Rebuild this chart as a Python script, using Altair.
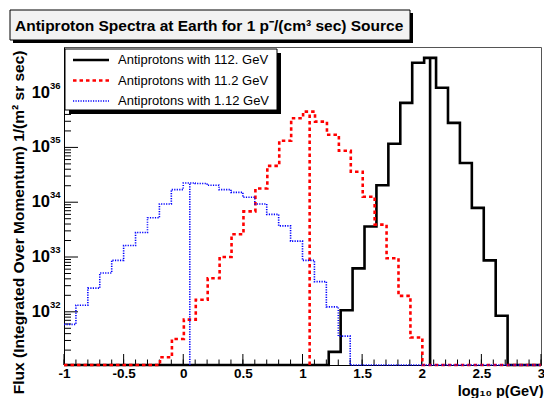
import altair as alt
import pandas as pd

# ---------------- data ----------------
bin_lo = [-1.0, -0.9, -0.8, -0.7, -0.6, -0.5, -0.4, -0.3, -0.2, -0.1,
          0.0, 0.1, 0.2, 0.3, 0.4, 0.5, 0.6, 0.7, 0.8, 0.9,
          1.0, 1.1, 1.2, 1.3, 1.4, 1.5, 1.6, 1.7, 1.8, 1.9,
          2.0, 2.1, 2.2, 2.3, 2.4, 2.5, 2.6, 2.7, 2.8, 2.9]
x_end = 3.0

series_names = ["Antiprotons with 112. GeV", "Antiprotons with 11.2 GeV", "Antiprotons with 1.12 GeV"]

flux_112 = [0] * 22 + [1.86e31, 1.07e32, 6.2e32, 3.6e33, 2.04e34, 1.17e35, 6.5e35, 3.5e36,
                      4.3e36, 1.23e36, 2.8e35, 5.2e34, 7.9e33, 8.7e32, 8.5e31] + [0] * 3
flux_11 = [0] * 8 + [1.48e31, 3.2e31, 7.2e31, 1.66e32, 4.1e32, 1.0e33, 2.6e33, 6.8e33, 1.78e34,
                     4.6e34, 1.32e35, 3.4e35, 4.5e35, 2.95e35, 1.7e35, 8.7e34, 3.6e34, 1.26e34,
                     3.9e33, 9.5e32, 1.95e32, 3.4e31] + [0] * 10
flux_1 = [5.9e31, 1.32e32, 2.7e32, 5.1e32, 8.7e32, 1.62e33, 2.8e33, 5.2e33, 9.3e33, 1.7e34,
          2.24e34, 2.19e34, 2.04e34, 1.7e34, 1.51e34, 1.23e34, 9.3e33, 6.0e33, 3.7e33, 1.95e33,
          8.7e32, 3.55e32, 1.23e32, 3.6e31] + [0] * 16

bin_shift = [0.02, 0.005, 0.0]          # small offset of each histogram's binning
source_x = [2.07, 1.06, 0.055]           # vertical marker at the source momentum
source_top = [4.3e36, 4.5e35, 2.24e34]

colors = ["#000000", "#ff0000", "#0000ff"]
dashes = [[1, 0], [3.5, 3], [1.2, 1.3]]
widths = [2.6, 2.6, 1.6]

y_min, y_max = 1.07e31, 6.8e36
x_min, x_max = -1.0, 3.0
y_major = [1e32, 1e33, 1e34, 1e35, 1e36]
y_exps = ["32", "33", "34", "35", "36"]
y_minor = [k * 10.0 ** e for e in range(31, 37) for k in range(2, 10)
           if y_min < k * 10.0 ** e < y_max]
x_major = [-1.0, -0.5, 0.0, 0.5, 1.0, 1.5, 2.0, 2.5, 3.0]
x_minor = [round(-1.0 + 0.1 * i, 1) for i in range(41)]

W, H = 477, 318
PL, PT = 56, 39          # plot area origin inside the chart (page: 64, 47)
FONT = "Liberation Sans"

xscale = alt.Scale(domain=[x_min, x_max], nice=False, zero=False)
yscale = alt.Scale(type="log", domain=[y_min, y_max], nice=False)

xaxis = alt.Axis(values=x_major, labelExpr="'' + datum.value", labelFont=FONT,
                 labelFontWeight="bold", labelFontSize=13.5, labelColor="#000",
                 labelPadding=1, labelFlush=False, labelOverlap=False,
                 ticks=False, tickSize=0, grid=False, domain=True, domainColor="#000",
                 title="log\u2081\u2080 p(GeV)", titleFont=FONT, titleFontWeight="bold",
                 titleFontSize=14.5, titleColor="#000", titleAnchor="end", titleAlign="right",
                 titleX=W + 2, titleY=30, titleBaseline="alphabetic")
yaxis = alt.Axis(labels=False, ticks=False, tickSize=0, grid=False, domain=True,
                 domainColor="#000",
                 title="Flux (Integrated Over Momentum)  1/(m\u00b2 sr sec)",
                 titleFont=FONT, titleFontWeight="bold", titleFontSize=15.5, titleColor="#000",
                 titleAngle=270, titleAlign="right", titleBaseline="middle",
                 titleX=-46, titleY=3)


def X(field):
    return alt.X(field, type="quantitative", scale=xscale, axis=xaxis)


def Y(field):
    return alt.Y(field, type="quantitative", scale=yscale, axis=yaxis)


layers = []

# tick marks pointing inward (ROOT style)
layers.append(alt.Chart(pd.DataFrame({"v": y_major})).mark_rule(color="#000", strokeWidth=1)
              .encode(y=Y("v"), x=alt.value(0), x2=alt.value(14)))
layers.append(alt.Chart(pd.DataFrame({"v": y_minor})).mark_rule(color="#000", strokeWidth=1)
              .encode(y=Y("v"), x=alt.value(0), x2=alt.value(7)))
layers.append(alt.Chart(pd.DataFrame({"v": x_major})).mark_rule(color="#000", strokeWidth=1)
              .encode(x=X("v"), y=alt.value(H), y2=alt.value(H - 11)))
layers.append(alt.Chart(pd.DataFrame({"v": x_minor})).mark_rule(color="#000", strokeWidth=1)
              .encode(x=X("v"), y=alt.value(H), y2=alt.value(H - 5.5)))

# histograms
for i, vals in enumerate([flux_112, flux_11, flux_1]):
    xs, vs = [], []
    if bin_shift[i] > 0:
        xs.append(x_min)
        vs.append(vals[0])
    for lo, v in zip(bin_lo, vals):
        xs.append(lo + bin_shift[i])
        vs.append(v)
    xs.append(x_end)
    vs.append(vals[-1])
    df = pd.DataFrame({"x": xs, "v": vs})
    layers.append(
        alt.Chart(df).transform_calculate(f=f"max(datum.v, {y_min})")
        .mark_line(interpolate="step-after", color=colors[i], strokeWidth=widths[i],
                   strokeDash=dashes[i], strokeCap="butt")
        .encode(x=X("x"), y=Y("f"))
    )
    mk = pd.DataFrame({"x": [source_x[i]], "lo": [y_min], "hi": [source_top[i]]})
    layers.append(
        alt.Chart(mk).mark_rule(color=colors[i], strokeWidth=widths[i], strokeDash=dashes[i])
        .encode(x=X("x"), y=Y("lo"), y2="hi")
    )

# y tick labels: "10" with exponent
lab = pd.DataFrame({"v": y_major, "e": y_exps})
layers.append(alt.Chart(lab).mark_text(align="right", baseline="middle", font=FONT,
                                       fontWeight="bold", fontSize=16.5, color="#000")
              .encode(y=Y("v"), x=alt.value(-14), text=alt.value("10")))
layers.append(alt.Chart(lab).mark_text(align="left", baseline="middle", font=FONT,
                                       fontWeight="bold", fontSize=9.5, color="#000", dy=-7)
              .encode(y=Y("v"), x=alt.value(-14), text="e:N"))

one = pd.DataFrame({"a": [0]})

# legend box with shadow
layers.append(alt.Chart(one).mark_rect(color="#000")
              .encode(x=alt.value(5), x2=alt.value(217), y=alt.value(6), y2=alt.value(67)))
layers.append(alt.Chart(one).mark_rect(fill="#ffffff", stroke="#000", strokeWidth=1)
              .encode(x=alt.value(1), x2=alt.value(213), y=alt.value(2), y2=alt.value(63)))
leg_y = [13, 33.5, 54]
for i in range(3):
    layers.append(alt.Chart(one).mark_rule(color=colors[i], strokeWidth=widths[i],
                                           strokeDash=dashes[i])
                  .encode(x=alt.value(9), x2=alt.value(45), y=alt.value(leg_y[i])))
    layers.append(alt.Chart(pd.DataFrame({"t": [series_names[i]]}))
                  .mark_text(align="left", baseline="middle", font=FONT, fontSize=13, color="#000")
                  .encode(x=alt.value(54), y=alt.value(leg_y[i]), text="t:N"))

# title box with shadow
layers.append(alt.Chart(one).mark_rect(color="#000")
              .encode(x=alt.value(-51), x2=alt.value(349), y=alt.value(-34), y2=alt.value(-4)))
layers.append(alt.Chart(one).mark_rect(fill="#f2f2f2", stroke="#000", strokeWidth=1)
              .encode(x=alt.value(-54), x2=alt.value(346), y=alt.value(-37), y2=alt.value(-7)))
layers.append(alt.Chart(pd.DataFrame({"t": ["Antiproton Spectra at Earth for 1 p\u207b/(cm\u00b3 sec) Source"]}))
              .mark_text(align="left", baseline="middle", font=FONT, fontWeight="bold",
                         fontSize=15.5, color="#000")
              .encode(x=alt.value(-49), y=alt.value(-21), text="t:N"))

chart = (alt.layer(*layers)
         .properties(width=W, height=H, autosize=alt.AutoSizeParams(type="none"),
                     padding={"left": PL, "top": PT, "right": 3, "bottom": 33},
                     background="#ffffff")
         .configure_view(stroke="#555555", strokeWidth=1))

chart.save("out.html", embed_options={"renderer": "svg", "actions": False})
